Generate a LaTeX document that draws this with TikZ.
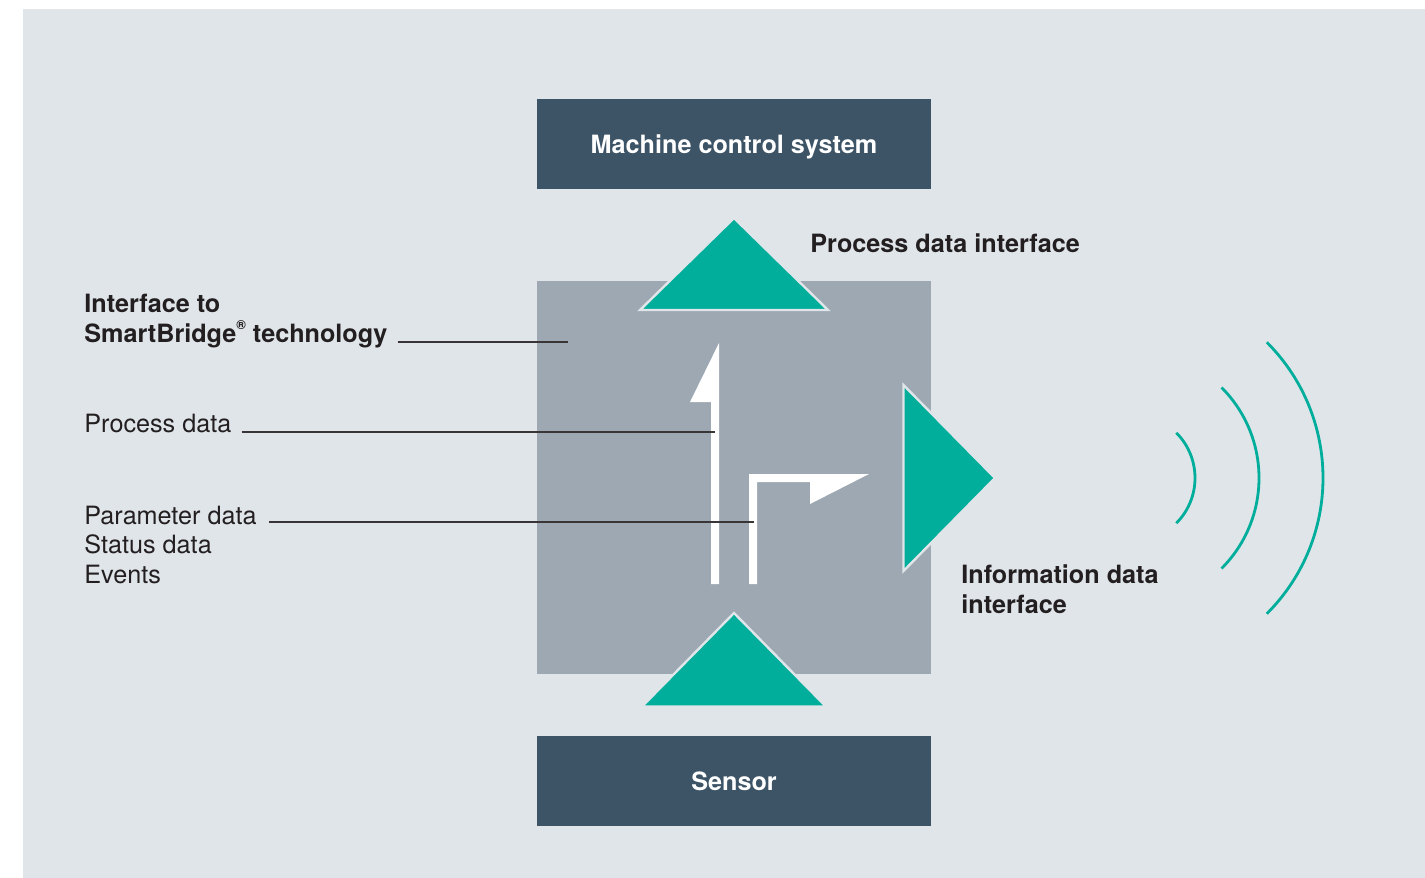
\documentclass[tikz,border=0pt]{standalone}
\usepackage{fontspec}
\setmainfont{TeX Gyre Heros}
\usepackage{xcolor}
\usepackage{tikz}
\usetikzlibrary{positioning, calc}
\definecolor{bgGray}{HTML}{E0E5E9}
\definecolor{coreGray}{HTML}{9DA8B3}
\definecolor{ctrlNavy}{HTML}{3D5467}
\definecolor{accTeal}{HTML}{00AE9B}
\definecolor{txtDark}{HTML}{231F20}
\newcommand{\regmark}{\raisebox{0.5em}{\fontsize{6.5pt}{6.5pt}\selectfont ®}}

\begin{document}
\begin{tikzpicture}[
        x=0.5pt, y=-0.5pt,
        font=\fontsize{12.6pt}{14.75pt}\selectfont, node distance=45pt,
        ctrl/.style={fill=ctrlNavy, text=white, inner sep=0pt, minimum width=197pt, minimum height=45pt,
                     text depth=0pt, font=\fontsize{12.6pt}{14.75pt}\selectfont\bfseries},
        core/.style={fill=coreGray, inner sep=0pt, minimum width=197pt, minimum height=196.5pt},
        lbl/.style={text=txtDark, align=left, inner sep=0pt, anchor=base west},
        lblb/.style={lbl, font=\fontsize{12.6pt}{14.75pt}\selectfont\bfseries},
        lead/.style={draw=txtDark!90, line width=0.55pt},
        tri/.style={fill=accTeal, draw=bgGray, line width=1.2pt},
        wave/.style={draw=accTeal, line width=1.4pt},
        flow/.style={fill=white}]
        \useasboundingbox (0,0) rectangle (1425,878);
        \fill[bgGray] (23,9) rectangle (1425,878);
        % bridge box with the two systems
        \node[core] (bridge) at (734,477.5) {};
        \node[ctrl, above=45.5pt of bridge] (mcs) {Machine control system};
        \node[ctrl, below=30.5pt of bridge] (sensor) {Sensor};
        % interfaces
        \filldraw[tri] (734,218) -- (828,310) -- (640,310) -- cycle;
        \filldraw[tri] (734,613) -- (826,706.5) -- (642,706.5) -- cycle;
        \filldraw[tri] (903.5,385) -- (995,478) -- (903.5,571) -- cycle;
        % data flows
        \fill[flow] (711,584) -- (711,402) -- (690,402) -- (719,343) -- (719,584) -- cycle;
        \fill[flow] (749,584) -- (749,474) -- (869,474) -- (810,504) -- (810,482) -- (757,482) -- (757,584) -- cycle;
        % radio waves
        \coordinate (src) at (1131,478);
        \foreach \r in {64,128,192}
          \draw[wave] (src) ++(-45:\r) arc[start angle=-45, end angle=45, radius=\r];
        % labels (base = last line)
        \node[lblb] (sbt) at (84,342) {Interface to\\SmartBridge\regmark{} technology};
        \node[lbl] (pdt) at (84,432) {Process data};
        \node[lbl] (part) at (84,583) {Parameter data\\Status data\\Events};
        \node[lblb] (pdi) at (810,252) {Process data interface};
        \node[lblb] (idi) at (961,613) {Information data\\interface};
        \coordinate (sbEnd) at (568,342);
        \coordinate (pdEnd) at (715,432);
        \coordinate (parEnd) at (754,522);
        \draw[lead] (sbt.east |- sbEnd) ++(10,0) -- (sbEnd);
        \draw[lead] (pdt.base east) ++(10,0) -- (pdEnd);
        \draw[lead] (part.east |- parEnd) ++(12,0) -- (parEnd);
      \end{tikzpicture}
\end{document}
